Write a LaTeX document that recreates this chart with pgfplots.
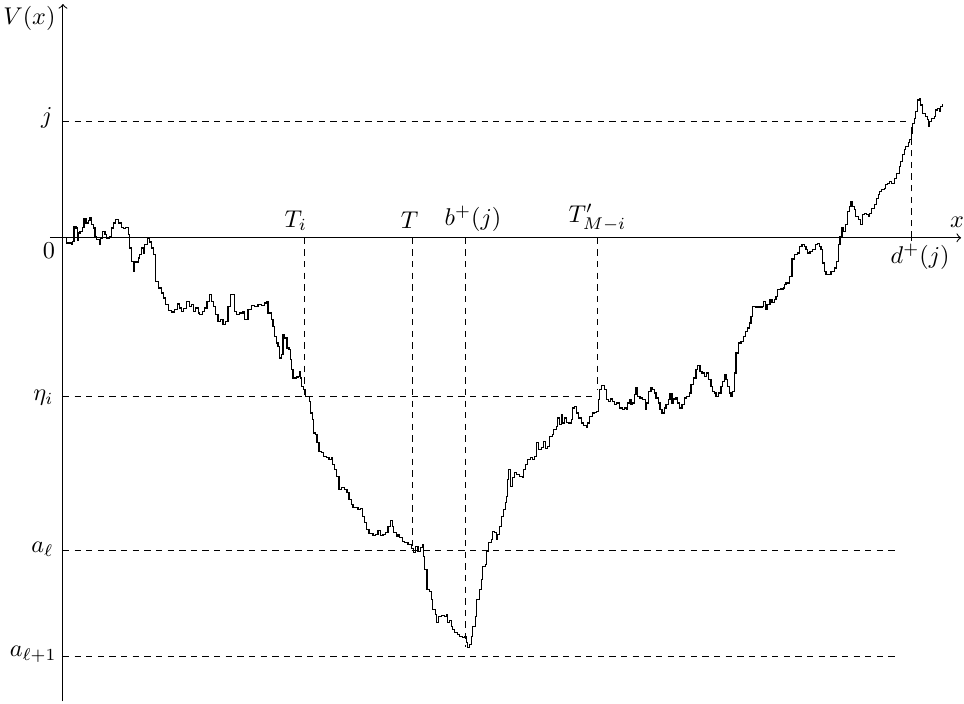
\documentclass[border=0pt]{standalone}
\usepackage{pgfplots}
\pgfplotsset{compat=1.18}
\usepackage{pgfplotstable}
\pgfplotstableread{
px py
63 238
65 238
66.7 243.3
71.7 244.3
72.7 241.7
74 226.7
76 228.3
77.3 241
78.3 233.3
80 231.7
82.7 227.7
84 219
86 223.3
88.3 221
90 218.3
91.7 225
93.3 228.3
95 236.7
96.7 240
99.3 245
100.7 238.3
102.7 231.7
105 235
106.7 238.3
109.3 236.7
111.7 228.3
113.3 223.3
116 220
118.3 223.3
121.7 227.7
124 229
126 227.7
128.3 235
130 248.3
131.7 261.7
133.3 271.7
135 262.3
138.3 258.3
140 255
141.7 248.3
143.3 253.3
145 245
147.3 238.3
149.3 242.3
151.7 248.3
154 255
156 281.7
158.3 288.3
161.7 293.3
164 298.3
166 305
168.3 311
171.7 312.3
175 310
177.3 304.3
179.3 308.3
181.7 311.7
184 309
186.7 301.7
189.3 306.7
191.7 305
193.3 311.7
196 308.3
198.3 313.3
200 315
202.7 311.7
205 308.3
207.3 301.7
210 295
211.7 301.7
214 306.7
216 315
218.3 321.7
220.7 320
223.3 325
226 321.7
228.3 306.7
230.7 295
235 311.7
236.7 315
240 313.3
243.3 311.7
245 320
248.3 310
251.7 306
255 306.7
258.3 305
261.7 306
265 303.3
267.3 301.7
268.3 313.3
271.7 320
273.3 326.7
275 336.7
276.7 343.3
278.3 346.7
280 358.3
281.7 355
283.3 335
285 338.3
287.3 348.3
289.3 350
290.7 360
291.7 370
293.3 378.3
296.7 377.3
298.3 376.7
300 371.7
300.7 378.3
301.7 386.7
304 390
306 396.7
310 401.7
310.7 413.3
312.7 420
314 433.3
316 435
317.3 443.3
319.3 451.7
321.7 453.3
324 456.7
326.7 458.3
329.3 460
331.7 458.3
332.7 465
335 470
336.7 476.7
339.3 490
341.7 488.3
345 490
347.3 493.3
349.3 500
351.7 505
353.3 508.3
356 508.3
358.3 510
360.7 509.3
362.7 516.7
365 523.3
366.7 530
369.3 534
373.3 536
376 535
378.3 530.7
380.7 536
383.3 535
386 532.7
388.3 526.7
390.7 520.7
392.7 526.7
394 533.3
396.7 536.7
398.3 535
400 538.3
402.7 541.7
405 543.3
408.3 545
411.7 549.3
414 552.7
416 546.7
418.3 551.7
420.7 548.3
423.3 545
424 556.7
425 570
427.3 590
430 591.7
431.7 600
432.7 610
436 615
437.3 623.3
439.3 616.7
441.7 616
445 616.7
446.7 615
448.3 623.3
450 620.7
451.7 626.7
453.3 630
455 633.3
458.3 635
460 636.7
462.7 638.3
465 636.7
466.7 643.3
467.7 648.3
470 645
471.7 636.7
473.3 626.7
476 616.7
477.3 600
480 590
481.7 580
483.3 566.7
486 565
487.3 551.7
489.3 543.3
491.7 540
493.3 531.7
495 533.3
496.7 540
498.3 535
500 526.7
501.7 516.7
504 510
506 503.3
507.3 496.7
508.3 480
509.3 470
510.7 486.7
512.7 478.3
515 473.3
517.3 475
520 476.7
522.7 478.3
524 470
526 465
528.3 460
530.7 458.3
532.7 460
535 457.3
536.7 443.3
539.3 450
541.7 448.3
544 441.7
546 449.3
548.3 446.7
550 436.7
552.7 435
554 430
556.7 426.7
558.3 418.3
560 425
561.7 415
563.3 423.3
565 418.3
566.7 422.7
569.3 423.3
571.7 420
573.3 408.3
575 406.7
576.7 413.3
579.3 418.3
581.7 423.3
584 426
586.7 427.3
588.3 423.3
590 416.7
592.7 413.3
595 412.7
597.3 411.7
599.3 400
600 390
601.7 386
603.3 386
605 390
606.7 400
609.3 401.7
610.7 399.3
612.7 401.7
615 405
617.3 403.3
620 408.3
622.7 410
625 408.3
626.7 410
628.3 403.3
630 400
631.7 405
633.3 403.3
635 395
636.7 388.3
638.3 396.7
640.7 398.3
643.3 400
646 410
647.3 403.3
649.3 391.7
651.7 388.3
653.3 390
655 393.3
656.7 398.3
659.3 403.3
660.7 410
662.7 413.3
665 408.3
666.7 405
669.3 400
670.7 394
672.7 403.3
674 399.3
676.7 398.3
678.3 403.3
680 408.3
682.7 405
685 398.3
687.3 396.7
690 393.3
691.7 385
694 378.3
696.7 370
698.3 366
700.7 371.7
702.7 373.3
705 376.7
707.3 373.3
709.3 380
711.7 386.7
713.3 391.7
715 393.3
716.7 396.7
719.3 393.3
721.7 386.7
723.3 381.7
725 375
726.7 380
728.3 386.7
730 393.3
731.7 396.7
733.3 391.7
735 373.3
736.7 353.3
739.3 343.3
741.7 341.7
744 336.7
746 331.7
748.3 328.3
750 323.3
751.7 316.7
753.3 306.7
756.7 307.3
760 307.3
762.7 306.7
764 301.7
766 305
766.7 310
768.3 305
770.7 300
772.7 302.7
775 300
776.7 296.7
778.3 290
781.7 289.3
784 288.3
785 285
786.7 283.3
788.3 283.3
790 276.7
791.7 276.7
792.7 259.3
795 255
798.3 253.3
800 246.7
802.7 245
805 246.7
806.7 250
808.3 253.3
810.7 251.7
813.3 250
816 245
818.3 244
820 246.7
821.7 250
823.3 263.3
825 271.7
826.7 275
828.3 275
831.7 271.7
835 268.3
837.3 261.7
839.3 245
840.7 236.7
842.7 228.3
844 231.7
846 225
848.3 211.7
850 206.7
851.7 201.7
853.3 206.7
855 210
856.7 216.7
859.3 220
861.7 225
863.3 215
865 213.3
867.3 215
869.3 216.7
870.7 213.3
872.7 208.3
875 205
877.3 198.3
879.3 195
880.7 191.7
882.7 190
885 188.3
886.7 185
888.3 183.3
890 181.7
892.7 183.3
895 178.3
897.3 173.3
900 166.7
901.7 161.7
903.3 155
905 150
906.7 146.7
909.3 142.3
910.7 140
912.7 133.3
913.3 123.3
915 118.3
916.7 111.7
918.3 100
920 98.3
921.7 105
923.3 113.3
926 116.7
928.3 120
929.3 126.7
930.7 121.7
932.7 118.3
935 116.7
936.7 110
938.3 108.3
940 111
941.7 106.7
943.3 104.3
}\pathdata
\begin{document}
\begin{tikzpicture}
\begin{axis}[
  hide axis,
  x=0.0145cm, y=0.0145cm, y dir=reverse,
  xmin=0, xmax=964, ymin=0, ymax=704,
  enlargelimits=false, clip=false,
]
\path (axis cs:0,0) rectangle (axis cs:964,704);
% axes
\draw[line width=0.45pt,->] (axis cs:63,702) -- (axis cs:63,4);
\draw[line width=0.45pt,->] (axis cs:50,238) -- (axis cs:962,238);
% dashed guides
\begin{scope}[dashed, line width=0.4pt, dash pattern=on 2.6pt off 2.2pt]
\draw (axis cs:63,122) -- (axis cs:912,122);
\draw (axis cs:63,397) -- (axis cs:598,397);
\draw (axis cs:63,551) -- (axis cs:898,551);
\draw (axis cs:63,657) -- (axis cs:898,657);
\draw (axis cs:305,238) -- (axis cs:305,397);
\draw (axis cs:413,238) -- (axis cs:413,551);
\draw (axis cs:466,238) -- (axis cs:466,648);
\draw (axis cs:598,238) -- (axis cs:598,390);
\draw (axis cs:912,238) -- (axis cs:912,122);
\end{scope}
\draw[line width=0.4pt] (axis cs:912,235) -- (axis cs:912,241);
% path
\addplot[black, line width=0.5pt, mark=none, const plot] table[x=px, y=py] {\pathdata};
% labels
\begin{scope}[every node/.style={inner sep=0pt}]
\node[anchor=east] at (axis cs:56,18) {$V(x)$};
\node[anchor=east] at (axis cs:53,118) {$j$};
\node at (axis cs:49,251) {$0$};
\node[anchor=east] at (axis cs:54,398) {$\eta_i$};
\node[anchor=east] at (axis cs:54,550) {$a_\ell$};
\node[anchor=east] at (axis cs:57,655) {$a_{\ell+1}$};
\node at (axis cs:296,221) {$T_i$};
\node at (axis cs:410,220) {$T$};
\node at (axis cs:473.5,219) {$b^+(j)$};
\node at (axis cs:598,218) {$T'_{M-i}$};
\node at (axis cs:921,257) {$d^+(j)$};
\node at (axis cs:958,222) {$x$};
\end{scope}
\end{axis}
\end{tikzpicture}
\end{document}
